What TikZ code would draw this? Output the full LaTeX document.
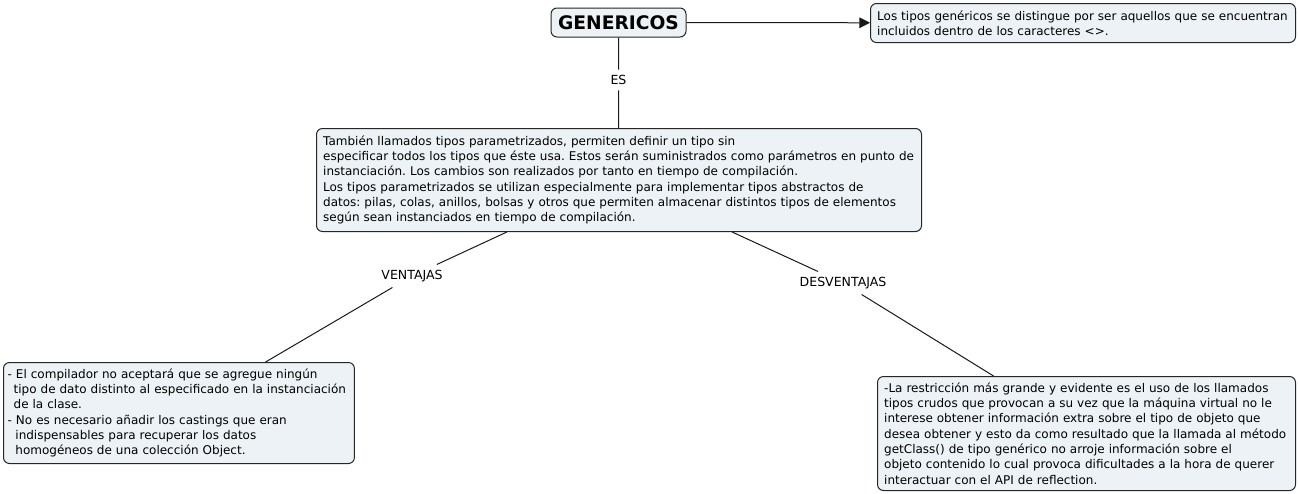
\documentclass[tikz,border=0pt]{standalone}
\usepackage{fontspec}
\setmainfont{DejaVu Sans}
\usetikzlibrary{positioning, arrows.meta}
\definecolor{boxfill}{RGB}{236,242,245}
\frenchspacing

\begin{document}
\begin{tikzpicture}[
  x=0.75pt, y=-0.75pt,
  >={Triangle[length=8pt, width=8pt]},
  every node/.style={font=\fontsize{9}{11.5}\selectfont},
  card/.style   = {draw=black!85, line width=0.75pt, fill=boxfill, rounded corners=4.5pt,
                   anchor=north west, align=left, inner xsep=5pt, inner ysep=2pt},
  topic/.style  = {draw=black!85, line width=0.75pt, fill=boxfill, rounded corners=4.5pt,
                   font=\fontsize{14}{16}\selectfont\bfseries, minimum width=101.25pt, minimum height=21.75pt},
  tag/.style    = {inner sep=4pt, font=\fontsize{9.4}{11}\selectfont},
  arr/.style    = {->, line width=0.75pt, black!90},
  link/.style   = {line width=0.75pt, black!90},
]
  \useasboundingbox (0,0) rectangle (1298,493);
  \node[topic] (gen) at (618.5,22.5) {GENERICOS};
  \node[card, text width=308.75pt, minimum height=29.25pt] (def) at (870,3)
    {Los tipos genéricos se distingue por ser aquellos que se encuentran\\incluidos dentro de los caracteres <>.};
  \node[card, text width=443.75pt, minimum height=77.25pt] (desc) at (316,128)
    {También llamados tipos parametrizados, permiten definir un tipo sin\\
     especificar todos los tipos que éste usa. Estos serán suministrados como parámetros en punto de\\
     instanciación. Los cambios son realizados por tanto en tiempo de compilación.\\
     Los tipos parametrizados se utilizan especialmente para implementar tipos abstractos de\\
     datos: pilas, colas, anillos, bolsas y otros que permiten almacenar distintos tipos de elementos\\
     según sean instanciados en tiempo de compilación.};
  \node[card, text width=257pt, inner xsep=3.1pt, minimum height=75.75pt] (pros) at (3,362)
    {- El compilador no aceptará que se agregue ningún\\
     \hspace*{0.5em}\mbox{tipo de dato distinto al especificado en la instanciación}\\
     \hspace*{0.5em}de la clase.\\
     - No es necesario añadir los castings que eran\\
     \hspace*{0.65em}indispensables para recuperar los datos\\
     \hspace*{0.65em}homogéneos de una colección Object.};
  \node[card, text width=303.5pt, minimum height=85.5pt] (cons) at (877,376)
    {-La restricción más grande y evidente es el uso de los llamados\\
     tipos crudos que provocan a su vez que la máquina virtual no le\\
     interese obtener información extra sobre el tipo de objeto que\\
     desea obtener y esto da como resultado que la llamada al método\\
     getClass() de tipo genérico no arroje información sobre el\\
     objeto contenido lo cual provoca dificultades a la hora de querer\\
     interactuar con el API de reflection.};
  % link labels
  \node[tag] (es)   at (618.5,80) {ES};
  \node[tag] (vent) at (412,276)  {VENTAJAS};
  \node[tag] (desv) at (843,283)  {DESVENTAJAS};
  \draw[arr] (gen) -- (def);
  \foreach \a/\b/\c in {gen/es/desc, desc/vent/pros, desc/desv/cons}\draw[link] (\a) -- (\b) -- (\c);
\end{tikzpicture}
\end{document}
